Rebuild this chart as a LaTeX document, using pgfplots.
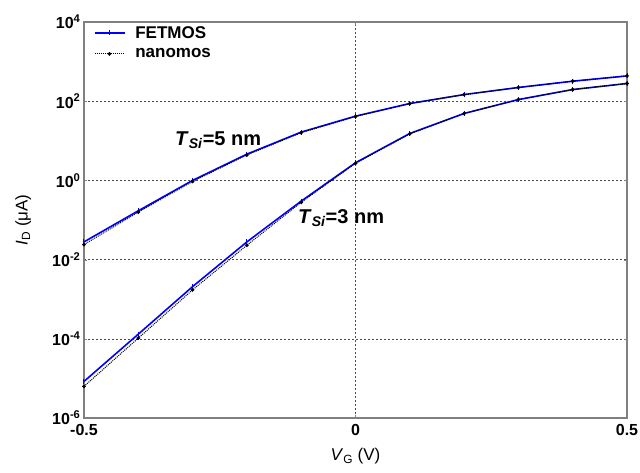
\documentclass[border=0pt]{standalone}
\usepackage{pgfplots}
\pgfplotsset{compat=1.18}
\usepackage{pgfplotstable}
\usepackage{fontspec}
\setmainfont{Liberation Sans}

\pgfplotstableread{
x    yf5    yn5    yf3     yn3
-0.5 0.028  0.024  8.4e-6  6.3e-6
-0.4 0.171  0.158  1.31e-4 1.04e-4
-0.3 1.00   0.94   2.08e-3 1.72e-3
-0.2 4.6    4.4    0.028   0.023
-0.1 16.6   16.0   0.30    0.28
0.0  41.9   41.0   2.79    2.70
0.1  87.5   87.0   15.3    15.0
0.2  147    147    49      49
0.3  222    222    110     110
0.4  320    320    197     197
0.5  435    435    280     280
}\data

\begin{document}
\begin{tikzpicture}
\begin{axis}[
  scale only axis, width=543pt, height=396pt,
  xmin=-0.5, xmax=0.5, ymode=log, ymin=1e-6, ymax=1e4,
  xtick={-0.5,0,0.5},
  xticklabels={\textbf{-0.5},\textbf{0},\textbf{0.5}},
  xticklabel style={yshift=-3pt},
  ytick={1e-6,1e-4,1e-2,1,1e2,1e4},
  yticklabels={\textbf{10\textsuperscript{-6}},\textbf{10\textsuperscript{-4}},\textbf{10\textsuperscript{-2}},\textbf{10\textsuperscript{0}},\textbf{10\textsuperscript{2}},\textbf{10\textsuperscript{4}}},
  yminorticks=false,
  grid=major,
  major grid style={dash pattern=on 2pt off 2pt, black!70, line width=0.6pt},
  axis line style={black!50, line width=1.2pt},
  tick style={black!50},
  major tick length=3pt,
  tick label style={font=\fontsize{16}{16}\selectfont},
  xlabel={\textit{V}\textsubscript{G} (V)},
  ylabel={\textit{I}\textsubscript{D} (μA)},
  label style={font=\fontsize{17}{17}\selectfont},
  xlabel style={at={(axis description cs:0.5,-0.096)}, anchor=center},
  ylabel style={at={(axis description cs:-0.112,0.5)}, anchor=center},
  legend style={at={(0.012,1.0)}, anchor=north west, draw=none, fill=none,
    nodes={font=\fontsize{17}{17}\selectfont\bfseries}, row sep=5pt, column sep=8pt},
  legend cell align=left,
  legend image code/.code={\draw[mark repeat=2,mark phase=2,#1] plot coordinates {(0pt,0pt) (15pt,0pt) (30pt,0pt)};},
]
\addplot[blue, line width=1.6pt, mark=|, mark size=2.5pt, mark options={line width=1pt}] table[x=x,y=yf5] {\data};
\addlegendentry{FETMOS}
\addplot[black, densely dotted, line width=1pt, mark=*, mark size=1.3pt, mark options={solid}] table[x=x,y=yn5] {\data};
\addlegendentry{nanomos}
\addplot[blue, line width=1.6pt, mark=|, mark size=2.5pt, mark options={line width=1pt}, forget plot] table[x=x,y=yf3] {\data};
\addplot[black, densely dotted, line width=1pt, mark=*, mark size=1.3pt, mark options={solid}, forget plot] table[x=x,y=yn3] {\data};
\node[anchor=base west, inner sep=0pt, font=\fontsize{20}{20}\selectfont\bfseries] at (axis cs:-0.3324,7.8) {\textit{T}\textsubscript{\textit{Si}}=5 nm};
\node[anchor=base west, inner sep=0pt, font=\fontsize{20}{20}\selectfont\bfseries] at (axis cs:-0.106,0.084) {\textit{T}\textsubscript{\textit{Si}}=3 nm};
\end{axis}
\pgfresetboundingbox
\useasboundingbox (-84pt,-54pt) rectangle (556pt,418pt);
\end{tikzpicture}
\end{document}
